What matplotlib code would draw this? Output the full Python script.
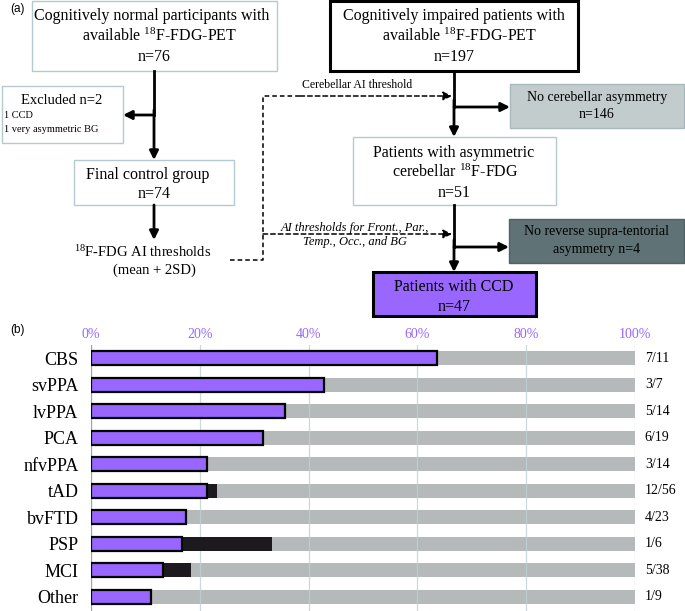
import matplotlib
matplotlib.use("Agg")
import matplotlib.pyplot as plt
from matplotlib.patches import Rectangle

plt.rcParams['font.family'] = ['Liberation Serif', 'DejaVu Serif']
plt.rcParams['mathtext.fontset'] = 'custom'
plt.rcParams['mathtext.rm'] = 'Liberation Serif'
plt.rcParams['mathtext.it'] = 'Liberation Serif:italic'

# ---------------- data (panel b) ----------------
categories = ["CBS", "svPPA", "lvPPA", "PCA", "nfvPPA", "tAD", "bvFTD", "PSP", "MCI", "Other"]
ccd_pct = [63.6, 42.9, 35.7, 31.6, 21.4, 21.4, 17.4, 16.7, 13.2, 11.1]
extra_pct = [0, 0, 0, 0, 0, 23.2, 0, 33.3, 18.4, 0]
fractions = ["7/11", "3/7", "5/14", "6/19", "3/14", "12/56", "4/23", "1/6", "5/38", "1/9"]
xticks = [0, 20, 40, 60, 80, 100]
xticklabels = ["0%", "20%", "40%", "60%", "80%", "100%"]

PURPLE = "#9966ff"
W, H = 685, 611
fig = plt.figure(figsize=(W / 100, H / 100), dpi=100)

# ---------------- panel b ----------------
ax = fig.add_axes([91 / W, 0, 544 / W, (H - 345) / H])
n = len(categories)
ys = list(range(n))
ax.barh(ys, [100] * n, height=0.53, color="#b5b9ba", zorder=1)
for xv in xticks:
    ax.axvline(xv, color="#7f8f92" if xv == 0 else "#bfd0d4", lw=0.9, alpha=0.8, zorder=2)
ax.barh(ys, extra_pct, height=0.53, color="#1c1a1e", zorder=3)
ax.barh(ys, ccd_pct, height=0.53, color=PURPLE, edgecolor="black", lw=1.6, zorder=4)
ax.set_xlim(0, 100)
ax.set_ylim(n - 0.47, -0.49)
ax.xaxis.tick_top()
ax.set_xticks(xticks)
ax.set_xticklabels(xticklabels, color=PURPLE, fontsize=10)
ax.tick_params(axis="x", length=0, pad=3)
ax.set_yticks(ys)
ax.set_yticklabels(categories, fontsize=13)
ax.tick_params(axis="y", length=0, pad=9)
for s in ax.spines.values():
    s.set_visible(False)
for y, f in zip(ys, fractions):
    ax.text(1.018, y, f, transform=ax.get_yaxis_transform(), ha="left", va="center", fontsize=10)

# ---------------- panel a (flowchart) ----------------
fa = fig.add_axes([0, 0, 1, 1], zorder=-1)
fa.set_xlim(0, W)
fa.set_ylim(H, 0)
fa.axis("off")

LIGHT_EDGE = "#b3cbcf"

def box(x0, y0, x1, y1, fc="white", ec=LIGHT_EDGE, lw=1.0):
    fa.add_patch(Rectangle((x0, y0), x1 - x0, y1 - y0, facecolor=fc, edgecolor=ec, lw=lw))

def txt(x, y, s, size=11.5, **kw):
    fa.text(x, y, s, ha=kw.pop("ha", "center"), va="center", fontsize=size, **kw)

def arrow(x0, y0, x1, y1, lw=2.0, ls="-"):
    fa.annotate("", xy=(x1, y1), xytext=(x0, y0),
                arrowprops=dict(arrowstyle="-|>", color="black", lw=lw, ls=ls,
                                mutation_scale=13, shrinkA=0, shrinkB=0))

fig.text(10 / W, 1 - 9 / H, "(a)", fontsize=8.5, family="Liberation Sans", va="center")
fig.text(10 / W, 1 - 330 / H, "(b)", fontsize=8.5, family="Liberation Sans", va="center")

# left column
box(32, 1, 277, 71)
txt(152, 16, "Cognitively normal participants with")
txt(160, 36, r"available $^{18}$F-FDG-PET")
txt(154, 57, "n=76")

box(2, 86, 123, 143)
txt(62, 101, "Excluded n=2", size=10.5)
txt(4, 116, "1 CCD", size=7.5, ha="left")
txt(4, 129, "1 very asymmetric BG", size=7.5, ha="left")

box(74, 160, 234, 205)
txt(148, 175, "Final control group")
txt(154, 194, "n=74")

txt(143, 252, r"$^{18}$F-FDG AI thresholds", size=10.5)
txt(154, 270, "(mean + 2SD)", size=10.5)

fa.plot([154, 154], [71, 115], color="black", lw=2.0)
arrow(154, 110, 154, 160)
arrow(154, 115, 123, 115)
arrow(154, 205, 154, 240)

# dashed connectors
fa.plot([230, 263, 263, 300], [260, 260, 96, 96], color="black", lw=1.1, ls=(0, (3, 2)))
arrow(300, 96, 452, 96, lw=1.1, ls=(0, (3, 2)))
arrow(263, 234, 452, 234, lw=1.1, ls=(0, (3, 2)))
txt(357, 85, "Cerebellar AI threshold", size=8.5)
txt(355, 228, "AI thresholds for Front., Par.,", size=9, style="italic")
txt(355, 242, "Temp., Occ., and BG", size=9, style="italic")

# right column
box(330, 1, 578, 71, ec="black", lw=2.2)
txt(454, 16, "Cognitively impaired patients with")
txt(460, 36, r"available $^{18}$F-FDG-PET")
txt(454, 57, "n=197")

box(510, 84, 684, 128, fc="#c3cccd", ec="#a9b9bb")
txt(597, 98, "No cerebellar asymmetry", size=10)
txt(597, 115, "n=146", size=10)

box(353, 137, 556, 205)
txt(454, 153, "Patients with asymmetric")
txt(455, 172, r"cerebellar $^{18}$F-FDG")
txt(454, 193, "n=51")

box(509, 219, 684, 263, fc="#5f7276", ec="#4f6265")
txt(597, 232, "No reverse supra-tentorial", size=10)
txt(597, 250, "asymmetry n=4", size=10)

box(373, 272, 536, 316, fc=PURPLE, ec="black", lw=2.2)
txt(454, 287, "Patients with CCD")
txt(454, 307, "n=47")

fa.plot([454, 454], [71, 107], color="black", lw=2.0)
arrow(454, 100, 454, 137)
arrow(454, 107, 510, 107)
fa.plot([454, 454], [205, 247], color="black", lw=2.0)
arrow(454, 240, 454, 272)
arrow(454, 247, 509, 247)

fig.savefig("out.png", dpi=100)
